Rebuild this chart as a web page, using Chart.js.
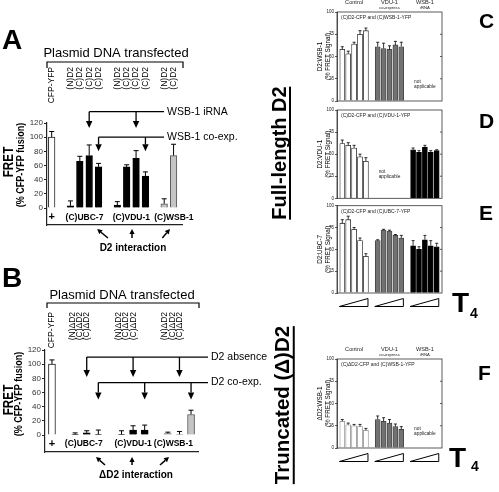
<!DOCTYPE html>
<html>
<head>
<meta charset="utf-8">
<script src="https://cdn.jsdelivr.net/npm/chart.js@4.4.1/dist/chart.umd.min.js"></script>
<style>
  html, body { margin: 0; padding: 0; background: #fff; }
  body { position: relative; width: 499px; height: 492px; overflow: hidden; font-family: "Liberation Sans", Arial, sans-serif; }
  canvas { position: absolute; }
  .big { position: absolute; font-weight: bold; line-height: 1; white-space: nowrap; color: #000; }
  .side { position: absolute; font-weight: bold; line-height: 1; white-space: nowrap; color: #000;
          border-bottom: 2px solid #000; transform: translate(-50%, -50%) rotate(-90deg); }
</style>
</head>
<body>
<canvas id="chartA" width="300" height="260" style="left:0;top:0;width:300px;height:260px"></canvas>
<canvas id="chartB" width="300" height="232" style="left:0;top:260px;width:300px;height:232px"></canvas>
<canvas id="chartC" width="199" height="106" style="left:300px;top:0;width:199px;height:106px"></canvas>
<canvas id="chartD" width="199" height="96" style="left:300px;top:106px;width:199px;height:96px"></canvas>
<canvas id="chartE" width="199" height="118" style="left:300px;top:202px;width:199px;height:118px"></canvas>
<canvas id="chartF" width="199" height="130" style="left:300px;top:340px;width:199px;height:130px"></canvas>

<div class="big" style="left:2px;top:26px;font-size:28px">A</div>
<div class="big" style="left:2px;top:264px;font-size:28px">B</div>
<div class="big" style="left:479px;top:10px;font-size:21px">C</div>
<div class="big" style="left:479px;top:110px;font-size:21px">D</div>
<div class="big" style="left:479px;top:202px;font-size:21px">E</div>
<div class="big" style="left:478px;top:362px;font-size:21px">F</div>
<div class="side" style="left:280px;top:153px;font-size:20px">Full-length D2</div>
<div class="side" style="left:283px;top:405px;font-size:20.5px">Truncated (Δ)D2</div>
<div class="big" style="left:452px;top:289px;font-size:28px">T</div>
<div class="big" style="left:470px;top:306px;font-size:14px">4</div>
<div class="big" style="left:449px;top:444px;font-size:28px">T</div>
<div class="big" style="left:471px;top:459px;font-size:14px">4</div>

<script>
// panel A: full-length D2 interactions, % of CFP-YFP fusion
const aLabels = ['CFP-YFP', '', '(N)D2', '(C)D2', '(C)D2', '(C)D2', '', '(N)D2', '(C)D2', '(C)D2', '(C)D2', '', '(N)D2', '(C)D2'];
const aPartner = ['+', '', '(C)UBC-7', '(C)UBC-7', '(C)UBC-7', '(C)UBC-7', '', '(C)VDU-1', '(C)VDU-1', '(C)VDU-1', '(C)VDU-1', '', '(C)WSB-1', '(C)WSB-1'];
const aValues = [100, null, 3, 66, 74, 58, null, 4, 58, 70, 45, null, 6, 74];
const aErrors = [8, null, 7, 7, 15, 5, null, 5, 3, 11, 6, null, 7, 16];

// panel B: truncated ΔD2
const bLabels = ['CFP-YFP', '', '(N)ΔD2', '(C)ΔD2', '(C)ΔD2', '', '(N)ΔD2', '(C)ΔD2', '(C)ΔD2', '', '(N)ΔD2', '(C)ΔD2', '(C)ΔD2'];
const bPartner = ['+', '', '(C)UBC-7', '(C)UBC-7', '(C)UBC-7', '', '(C)VDU-1', '(C)VDU-1', '(C)VDU-1', '', '(C)WSB-1', '(C)WSB-1', '(C)WSB-1'];
const bValues = [100, null, 1, 3, 1, null, 1, 7, 7, null, 2, 1, 29];
const bErrors = [6, null, 2, 3, 6, null, 5, 6, 7, null, 2, 4, 6];

const pctTicks = [0, 20, 40, 60, 80, 100, 120];

// panels C-F: % FRET signal at increasing T4, per condition
const conditions = [['Control'], ['VDU-1', 'co-express'], ['WSB-1', 'iRNA']];
const fretTicks = [0, 25, 50, 75, 100];

const cControl = [58, 53, 64, 75, 79], cControlErr = [3, 3, 2, 4, 3];
const cVdu = [61, 59, 58, 63, 61], cVduErr = [5, 6, 4, 4, 5];

const dControl = [62, 60, 57, 47, 42], dControlErr = [4, 3, 3, 3, 4];
const dWsb = [55, 52, 58, 52, 54], dWsbErr = [2, 2, 2, 2, 1];

const eControl = [80, 84, 73, 60, 42], eControlErr = [4, 4, 2, 3, 3];
const eVdu = [60, 72, 71, 66, 63], eVduErr = [1, 1, 1, 1, 3];
const eWsb = [54, 50, 61, 54, 53], eWsbErr = [6, 3, 5, 6, 4];

const fControl = [30, 26, 25, 24, 20], fControlErr = [2, 2, 1.5, 2.5, 2];
const fVdu = [32, 30, 28, 24, 21], fVduErr = [4, 4, 4, 3, 3];

const FF = '"Liberation Sans", Arial, sans-serif';
Chart.defaults.font.family = FF;
Chart.defaults.color = '#222';
Chart.defaults.animation = false;
Chart.defaults.plugins.legend.display = false;
Chart.defaults.plugins.tooltip.enabled = false;

const BAR = {
    white: {fill: '#ffffff', line: '#222222'},
    pale: {fill: '#ffffff', line: '#8a8a8a'},
    black: {fill: '#000000', line: '#000000'},
    gray: {fill: '#c4c4c4', line: '#555555'},
    dark: {fill: '#727272', line: '#3a3a3a'},
};
const partnerStyle = {'+': BAR.white, '(C)UBC-7': BAR.black, '(C)VDU-1': BAR.black, '(C)WSB-1': BAR.gray};

let vText = (ctx, txt, x, y, font, align, sx) => {
    ctx.save();
    ctx.translate(x, y);
    ctx.rotate(-Math.PI / 2);
    ctx.scale(sx, 1);
    ctx.font = font;
    ctx.textAlign = align;
    ctx.textBaseline = 'middle';
    ctx.fillText(txt, 0, 0);
    ctx.restore();
};

let arrow = (ctx, x0, y0, x1, y1, head, half) => {
    const a = Math.atan2(y1 - y0, x1 - x0);
    const bx = x1 - head * Math.cos(a), by = y1 - head * Math.sin(a);
    ctx.beginPath();
    ctx.moveTo(x0, y0);
    ctx.lineTo(bx, by);
    ctx.stroke();
    ctx.beginPath();
    ctx.moveTo(x1, y1);
    ctx.lineTo(bx + half * Math.sin(a), by - half * Math.cos(a));
    ctx.lineTo(bx - half * Math.sin(a), by + half * Math.cos(a));
    ctx.closePath();
    ctx.fill();
};

let errorBars = (cap, width) => ({
    id: 'errorBars',
    afterDatasetsDraw(chart) {
        const ctx = chart.ctx, ys = chart.scales.y;
        ctx.save();
        ctx.strokeStyle = '#000';
        ctx.lineWidth = width;
        chart.data.datasets.forEach((ds, di) => {
            chart.getDatasetMeta(di).data.forEach((bar, i) => {
                const e = ds.errors[i];
                if (e == null) return;
                const top = ys.getPixelForValue(ds.data[i].y + e);
                ctx.beginPath();
                ctx.moveTo(bar.x, bar.y);
                ctx.lineTo(bar.x, top);
                ctx.moveTo(bar.x - cap, top);
                ctx.lineTo(bar.x + cap, top);
                ctx.stroke();
            });
        });
        ctx.restore();
    }
});

let partnerGroups = (partner) => {
    const groups = [];
    partner.forEach((name, i) => {
        if (!name) return;
        const g = groups[groups.length - 1];
        if (g && g.name === name) g.last = i;
        else groups.push({name: name, first: i, last: i});
    });
    return groups;
};

let plasmidDeco = (p, groups) => ({
    id: 'plasmidDeco',
    afterDraw(chart) {
        const ctx = chart.ctx, ca = chart.chartArea;
        const px = v => chart.scales.x.getPixelForValue(v);
        const py = v => chart.scales.y.getPixelForValue(v);
        ctx.save();
        ctx.fillStyle = '#000';
        ctx.strokeStyle = '#000';

        ctx.font = '13px ' + FF;
        ctx.textAlign = 'center';
        ctx.textBaseline = 'middle';
        ctx.fillText('Plasmid DNA transfected', p.headX, p.headY);
        ctx.lineWidth = 1.2;
        ctx.beginPath();
        ctx.moveTo(p.brLeft, p.brY + p.brDrop);
        ctx.lineTo(p.brLeft, p.brY);
        ctx.lineTo(p.brRight, p.brY);
        ctx.lineTo(p.brRight, p.brY + p.brDrop);
        ctx.stroke();

        p.labels.forEach((t, i) => {
            if (!t) return;
            const g = groups.find(gr => i >= gr.first && i <= gr.last);
            const c = (g.first + g.last) / 2;
            const lx = g.first === g.last ? px(i) : px(c) + p.labelShift + (i - c) * p.labelGap(px);
            vText(ctx, t, lx, p.labelTop, '8.5px ' + FF, 'right', 1);
        });

        ctx.lineWidth = 1.3;
        p.notes.forEach(n => {
            const ly = py(n.level);
            ctx.beginPath();
            ctx.moveTo(px(n.targets[0]), ly);
            ctx.lineTo(p.lineEnd, ly);
            ctx.stroke();
            n.targets.forEach(t => arrow(ctx, px(t), ly, px(t), py(n.tip), 7, 3.2));
            ctx.font = '10.5px ' + FF;
            ctx.textAlign = 'left';
            ctx.fillText(n.text, p.lineEnd + 3, ly);
        });

        ctx.textAlign = 'center';
        groups.forEach((g, k) => {
            ctx.font = g.name === '+' ? 'bold 11px ' + FF : 'bold 8.5px ' + FF;
            ctx.fillText(g.name, px((g.first + g.last) / 2) + p.partnerDx[k], py(p.partnerLevel));
        });

        ctx.lineWidth = 1.5;
        p.inter.forEach(([a, b]) => arrow(ctx, px(a), ca.bottom + p.tailDy, px(b), ca.bottom + p.headDy, 5, 2.6));
        ctx.font = 'bold 10px ' + FF;
        ctx.fillText(p.interText, px(p.interSlot), ca.bottom + p.interDy);

        vText(ctx, 'FRET', p.fretX, p.fretY, 'bold 15px ' + FF, 'center', 0.78);
        vText(ctx, '(% CFP-YFP fusion)', p.fusionX, p.fusionY, 'bold 10px ' + FF, 'center', 0.9);
        ctx.restore();
    }
});

let plasmidChart = (id, p) => {
    const kept = p.values.map((v, i) => i).filter(i => p.values[i] != null);
    const groups = partnerGroups(p.partner);
    return new Chart(document.getElementById(id), {
        type: 'bar',
        data: {
            datasets: [{
                data: kept.map(i => ({x: i, y: p.values[i]})),
                errors: kept.map(i => p.errors[i]),
                backgroundColor: kept.map(i => partnerStyle[p.partner[i]].fill),
                borderColor: kept.map(i => partnerStyle[p.partner[i]].line),
                borderWidth: 1,
                barThickness: p.barWidth
            }]
        },
        options: {
            responsive: false,
            devicePixelRatio: 1,
            layout: {padding: p.pad},
            scales: {
                x: {
                    type: 'linear', min: p.xMin, max: p.xMax, offset: false,
                    ticks: {display: false},
                    grid: {display: false},
                    border: {display: true, color: '#222', width: 1.2},
                    afterFit: s => { s.height = 0; }
                },
                y: {
                    min: -24, max: 120,
                    afterBuildTicks: s => { s.ticks = pctTicks.map(v => ({value: v})); },
                    ticks: {font: {size: 8}, color: '#333', padding: 1},
                    grid: {drawOnChartArea: false, tickLength: 3, color: '#222'},
                    border: {display: true, color: '#222', width: 1.2},
                    afterFit: s => { s.width = 30; }
                }
            }
        },
        plugins: [errorBars(2.5, 1), plasmidDeco(p, groups)]
    });
};

plasmidChart('chartA', {
    labels: aLabels, partner: aPartner, values: aValues, errors: aErrors,
    pad: {left: 17, right: 118, top: 123, bottom: 35},
    xMin: -0.5, xMax: 13.9, barWidth: 6.6,
    headX: 116, headY: 53, brY: 62, brLeft: 47, brRight: 183, brDrop: 6,
    labelTop: 67, labelShift: 0, labelGap: px => px(1) - px(0),
    notes: [
        {text: 'WSB-1 iRNA', level: 136, targets: [4, 9], tip: 113},
        {text: 'WSB-1 co-exp.', level: 100, targets: [5, 10], tip: 80}
    ],
    lineEnd: 164,
    partnerLevel: -13, partnerDx: [0, 0, 0, 5],
    inter: [[6.0, 4.85], [8.57, 8.57], [11.8, 12.62]], tailDy: 13, headDy: 4,
    interText: 'D2 interaction', interSlot: 8.67, interDy: 23,
    fretX: 9, fretY: 162, fusionX: 21, fusionY: 165
});

plasmidChart('chartB', {
    labels: bLabels, partner: bPartner, values: bValues, errors: bErrors,
    pad: {left: 15, right: 102, top: 90, bottom: 40},
    xMin: -0.6, xMax: 12.6, barWidth: 7,
    headX: 122, headY: 35, brY: 43, brLeft: 47, brRight: 199, brDrop: 5,
    labelTop: 52, labelShift: -7, labelGap: () => 7.3,
    notes: [
        {text: 'D2 absence', level: 110, targets: [3, 7, 11], tip: 82},
        {text: 'D2 co-exp.', level: 74, targets: [4, 8, 12], tip: 50}
    ],
    lineEnd: 208,
    partnerLevel: -12, partnerDx: [0, -3, 0, -6],
    inter: [[4.58, 3.8], [6.91, 6.91], [9.32, 10.1]], tailDy: 13, headDy: 5,
    interText: 'ΔD2 interaction', interSlot: 7.25, interDy: 23,
    fretX: 9, fretY: 140, fusionX: 19, fusionY: 134
});

// right column
const dosesPerGroup = 5;
const slotsPerGroup = dosesPerGroup + 1;
const conditionStyle = [BAR.white, BAR.dark, BAR.black];

let fretDeco = (o) => ({
    id: 'fretDeco',
    afterDraw(chart) {
        const ctx = chart.ctx, ca = chart.chartArea;
        const px = v => chart.scales.x.getPixelForValue(v);
        const py = v => chart.scales.y.getPixelForValue(v);
        ctx.save();
        ctx.strokeStyle = '#333';
        ctx.lineWidth = 0.8;
        ctx.strokeRect(ca.left, ca.top, ca.right - ca.left, ca.bottom - ca.top);
        fretTicks.slice(1, -1).forEach(v => {
            ctx.beginPath();
            ctx.moveTo(ca.right, py(v));
            ctx.lineTo(ca.right - 2, py(v));
            ctx.stroke();
        });
        ctx.fillStyle = '#222';
        ctx.textBaseline = 'middle';
        ctx.textAlign = 'left';
        ctx.font = '5px ' + FF;
        ctx.fillText(o.pair, ca.left + 4, ca.top + 5.5);

        if (o.headers) {
            ctx.textAlign = 'center';
            conditions.forEach((c, g) => {
                const cx = px(g * slotsPerGroup + (dosesPerGroup - 1) / 2);
                ctx.font = '5.6px ' + FF;
                ctx.fillText(c[0], cx, ca.top - 9.5);
                if (c[1]) {
                    ctx.font = '4.2px ' + FF;
                    ctx.fillText(c[1], cx, ca.top - 4.5);
                }
            });
        }
        if (o.na != null) {
            ctx.textAlign = 'left';
            ctx.font = '4.8px ' + FF;
            const nx = px(o.na * slotsPerGroup) + 1;
            ctx.fillText('not', nx, py(o.naLevel[0]));
            ctx.fillText('applicable', nx, py(o.naLevel[1]));
        }
        if (o.wedges) {
            ctx.strokeStyle = '#000';
            ctx.lineWidth = 1;
            conditions.forEach((c, g) => {
                const x0 = px(g * slotsPerGroup - 0.5), x1 = px(g * slotsPerGroup + dosesPerGroup - 1 + 0.35);
                const yb = ca.bottom + 13.5, yt = ca.bottom + 5.5;
                ctx.beginPath();
                ctx.moveTo(x0, yb);
                ctx.lineTo(x1, yb);
                ctx.lineTo(x1, yt);
                ctx.closePath();
                ctx.stroke();
            });
        }
        ctx.restore();
    }
});

let fretChart = (id, o) => {
    const points = [], errs = [], fills = [], lines = [];
    o.series.forEach((s, g) => {
        if (!s) return;
        const st = (o.styles && o.styles[g]) || conditionStyle[g];
        s.values.forEach((v, k) => {
            points.push({x: g * slotsPerGroup + k, y: v});
            errs.push(s.errors[k]);
            fills.push(st.fill);
            lines.push(st.line);
        });
    });
    return new Chart(document.getElementById(id), {
        type: 'bar',
        data: {
            datasets: [{
                data: points, errors: errs,
                backgroundColor: fills, borderColor: lines,
                borderWidth: 0.8, barThickness: 5
            }]
        },
        options: {
            responsive: false,
            devicePixelRatio: 1,
            layout: {padding: o.pad},
            scales: {
                x: {type: 'linear', min: -0.9, max: 16.9, offset: false, display: false},
                y: {
                    min: 0, max: 100,
                    afterBuildTicks: s => { s.ticks = fretTicks.map(v => ({value: v})); },
                    ticks: {font: {size: 4.5}, color: '#222', padding: 1},
                    grid: {drawOnChartArea: false, tickLength: 2, color: '#333', lineWidth: 0.8},
                    border: {display: true, color: '#333', width: 0.8},
                    title: {display: true, text: [o.title, '(% FRET Signal)'], font: {size: 6.3}, color: '#000', padding: {top: 0.5, bottom: 0}},
                    afterFit: s => { s.width = 21; }
                }
            }
        },
        plugins: [errorBars(1.5, 0.8), fretDeco(o)]
    });
};

fretChart('chartC', {
    title: 'D2:WSB-1', pair: '(C)D2-CFP and (C)WSB-1-YFP',
    series: [{values: cControl, errors: cControlErr}, {values: cVdu, errors: cVduErr}, null],
    pad: {left: 16, right: 57, top: 12, bottom: 5},
    headers: true, na: 2, naLevel: [22, 16]
});
fretChart('chartD', {
    title: 'D2:VDU-1', pair: '(C)D2-CFP and (C)VDU-1-YFP',
    series: [{values: dControl, errors: dControlErr}, null, {values: dWsb, errors: dWsbErr}],
    pad: {left: 16, right: 57, top: 4, bottom: 3},
    na: 1, naLevel: [30, 24]
});
fretChart('chartE', {
    title: 'D2:UBC-7', pair: '(C)D2-CFP and (C)UBC-7-YFP',
    series: [{values: eControl, errors: eControlErr}, {values: eVdu, errors: eVduErr}, {values: eWsb, errors: eWsbErr}],
    pad: {left: 16, right: 57, top: 2, bottom: 27},
    wedges: true
});
fretChart('chartF', {
    title: 'ΔD2:WSB-1', pair: '(C)ΔD2-CFP and (C)WSB-1-YFP',
    series: [{values: fControl, errors: fControlErr}, {values: fVdu, errors: fVduErr}, null],
    styles: [BAR.pale, BAR.dark, BAR.black],
    pad: {left: 16, right: 57, top: 19, bottom: 22},
    headers: true, na: 2, naLevel: [22, 16], wedges: true
});
</script>
</body>
</html>
